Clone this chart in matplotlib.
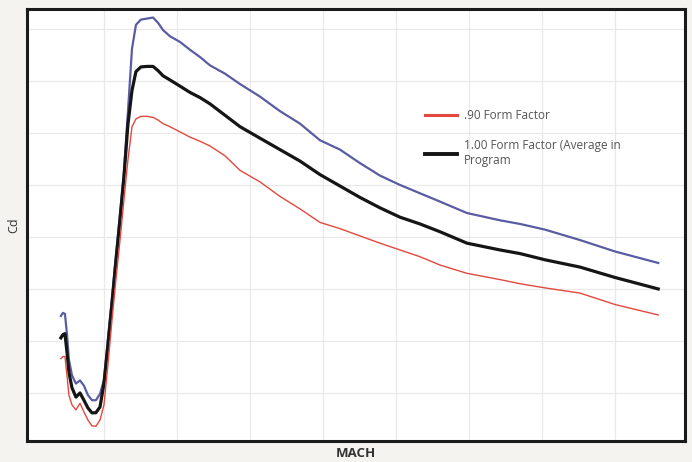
import numpy as np
import matplotlib
matplotlib.use("Agg")
import matplotlib.pyplot as plt
from matplotlib.lines import Line2D

# drag curves (Mach vs Cd)
mach = [0.205, 0.219, 0.233, 0.247, 0.260, 0.281, 0.308, 0.336, 0.363, 0.390,
        0.418, 0.445, 0.473, 0.500, 0.527, 0.555, 0.582, 0.610, 0.637, 0.664,
        0.692, 0.719, 0.753, 0.795, 0.836, 0.870, 0.904, 0.952, 1.021, 1.089,
        1.158, 1.226, 1.329, 1.432, 1.568, 1.705, 1.842, 1.979, 2.116, 2.253,
        2.390, 2.527, 2.664, 2.801, 2.986, 3.212, 3.349, 3.521, 3.760, 4.000,
        4.295]

cd_110 = [0.224, 0.227, 0.226, 0.206, 0.182, 0.167, 0.159, 0.162, 0.157, 0.148,
          0.143, 0.143, 0.149, 0.1625, 0.201, 0.241, 0.282, 0.322, 0.3625, 0.420,
          0.481, 0.504, 0.509, 0.510, 0.511, 0.506, 0.499, 0.493, 0.4875, 0.480,
          0.473, 0.465, 0.457, 0.447, 0.435, 0.421, 0.409, 0.393, 0.384, 0.371,
          0.359, 0.350, 0.342, 0.334, 0.323, 0.316, 0.3125, 0.307, 0.297, 0.286,
          0.275]

cd_100 = [0.203, 0.206, 0.207, 0.189, 0.170, 0.155, 0.146, 0.150, 0.143, 0.1356,
          0.1308, 0.131, 0.1365, 0.159, 0.196, 0.2365, 0.277, 0.317, 0.358, 0.408,
          0.441, 0.459, 0.4635, 0.464, 0.464, 0.460, 0.455, 0.451, 0.445, 0.439,
          0.434, 0.428, 0.417, 0.406, 0.395, 0.384, 0.373, 0.360, 0.349, 0.338,
          0.328, 0.319, 0.3125, 0.305, 0.294, 0.2875, 0.284, 0.278, 0.271, 0.261,
          0.250]

cd_090 = [0.183, 0.185, 0.185, 0.167, 0.148, 0.1385, 0.1337, 0.140, 0.1317, 0.124,
          0.1183, 0.118, 0.124, 0.1385, 0.177, 0.220, 0.259, 0.297, 0.336, 0.374,
          0.406, 0.4135, 0.416, 0.416, 0.415, 0.4125, 0.409, 0.406, 0.401, 0.396,
          0.392, 0.3875, 0.378, 0.364, 0.353, 0.339, 0.327, 0.314, 0.308, 0.301,
          0.294, 0.2875, 0.281, 0.273, 0.265, 0.259, 0.255, 0.251, 0.246, 0.235,
          0.225]

blue = "#5a5ca3"
black = "#151515"
red = "#e2483d"
txt = "#555555"

fig = plt.figure(figsize=(6.92, 4.62), dpi=100, facecolor="#f4f3ef")
ax = fig.add_axes([0.039, 0.0455, 0.951, 0.935])
ax.set_facecolor("white")

ax.plot(mach, cd_110, color=blue, lw=1.6, solid_joinstyle="round")
ax.plot(mach, cd_100, color=black, lw=2.3, solid_joinstyle="round")
ax.plot(mach, cd_090, color=red, lw=1.0, solid_joinstyle="round")

ax.set_xlim(-0.027, 4.479)
ax.set_ylim(0.1038, 0.5192)
ax.set_xticks(np.arange(0.5, 4.5, 0.5))
ax.set_yticks(np.arange(0.15, 0.51, 0.05))
ax.tick_params(length=0, labelbottom=False, labelleft=False)
ax.grid(True, color="#e9e9e9", lw=0.9)
ax.set_axisbelow(True)
for s in ax.spines.values():
    s.set_linewidth(2.2)
    s.set_color("#1a1a1a")

ax.set_xlabel("MACH", fontsize=9.5, fontweight="bold", color="#333333",
              family="Open Sans", labelpad=4)
ax.set_ylabel("Cd", fontsize=9, color="#333333", family="Open Sans", labelpad=5)

handles = [Line2D([], [], color=red, lw=2.2),
           Line2D([], [], color=black, lw=2.8)]
labels = [".90 Form Factor", "1.00 Form Factor (Average in\nProgram"]
leg = ax.legend(handles, labels, loc="upper left", bbox_to_anchor=(0.596, 0.782),
                frameon=False, handlelength=2.7, handletextpad=0.6,
                labelspacing=1.45, borderpad=0, prop={"family": "Open Sans", "size": 8.5})
for t in leg.get_texts():
    t.set_color(txt)

fig.savefig("out.png", dpi=100, facecolor=fig.get_facecolor())
